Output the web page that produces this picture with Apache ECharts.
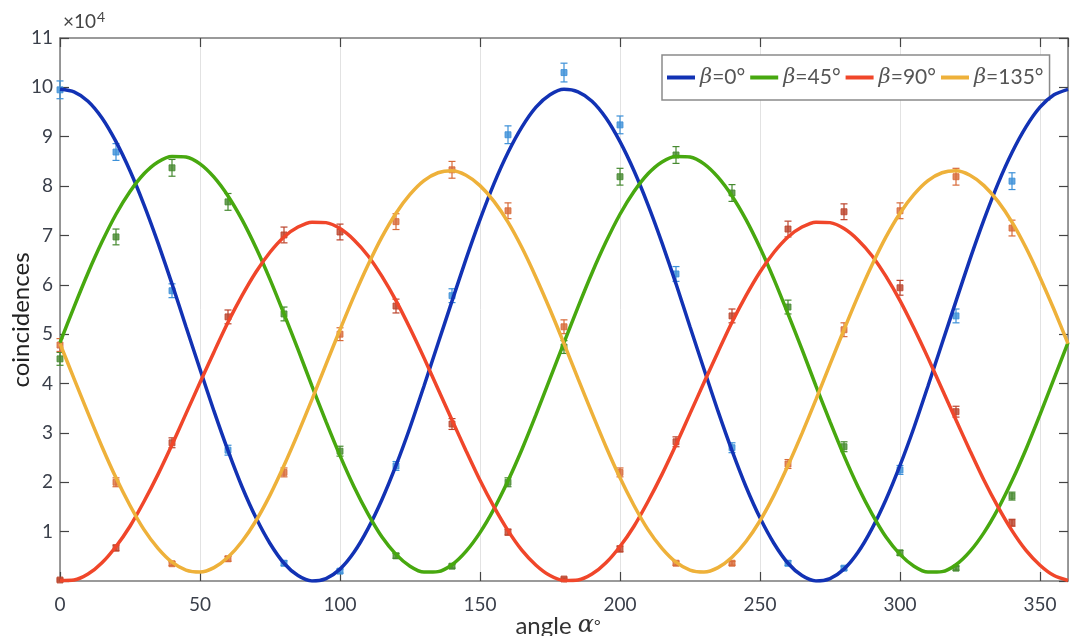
<!DOCTYPE html>
<html><head><meta charset="utf-8">
<script src="https://cdn.jsdelivr.net/npm/echarts@6/dist/echarts.min.js"></script>
<style>html,body{margin:0;padding:0;background:#fff}#c{width:1078px;height:636px}</style>
</head><body><div id="c"></div>
<script>
// Fitted curves, read every 5 degrees from 0 to 360 (values in units of 10^4)
const curveAngles = [0,5,10,15,20,25,30,35,40,45,50,55,60,65,70,75,80,85,90,95,100,105,110,115,120,125,130,135,140,145,150,155,160,165,170,175,180,185,190,195,200,205,210,215,220,225,230,235,240,245,250,255,260,265,270,275,280,285,290,295,300,305,310,315,320,325,330,335,340,345,350,355,360];
const fitBeta0 = [9.96,9.91,9.72,9.38,8.90,8.31,7.62,6.85,6.02,5.15,4.29,3.44,2.64,1.91,1.28,0.76,0.36,0.11,0.00,0.05,0.24,0.58,1.06,1.65,2.34,3.11,3.95,4.81,5.67,6.52,7.32,8.05,8.68,9.20,9.60,9.85,
                  9.96,9.91,9.72,9.38,8.90,8.31,7.62,6.85,6.02,5.15,4.29,3.44,2.64,1.91,1.28,0.76,0.36,0.11,0.00,0.05,0.24,0.58,1.06,1.65,2.34,3.11,3.95,4.81,5.67,6.52,7.32,8.05,8.68,9.20,9.60,9.85,9.96];
const fitBeta45 = [4.83,5.55,6.24,6.87,7.43,7.89,8.25,8.49,8.60,8.59,8.45,8.18,7.80,7.32,6.75,6.11,5.41,4.69,3.95,3.23,2.54,1.91,1.36,0.89,0.54,0.30,0.18,0.19,0.33,0.60,0.98,1.46,2.03,2.67,3.37,4.10,
                   4.83,5.55,6.24,6.87,7.43,7.89,8.25,8.49,8.60,8.59,8.45,8.18,7.80,7.32,6.75,6.11,5.41,4.69,3.95,3.23,2.54,1.91,1.36,0.89,0.54,0.30,0.18,0.19,0.33,0.60,0.98,1.46,2.03,2.67,3.37,4.10,4.83];
const fitBeta90 = [0.01,0.02,0.14,0.37,0.70,1.11,1.61,2.16,2.76,3.39,4.02,4.64,5.24,5.78,6.26,6.66,6.97,7.17,7.27,7.26,7.14,6.91,6.59,6.17,5.68,5.12,4.52,3.89,3.26,2.64,2.04,1.50,1.02,0.62,0.32,0.11,
                   0.01,0.02,0.14,0.37,0.70,1.11,1.61,2.16,2.76,3.39,4.02,4.64,5.24,5.78,6.26,6.66,6.97,7.17,7.27,7.26,7.14,6.91,6.59,6.17,5.68,5.12,4.52,3.89,3.26,2.64,2.04,1.50,1.02,0.62,0.32,0.11,0.01];
const fitBeta135 = [4.81,4.10,3.40,2.72,2.09,1.53,1.04,0.66,0.38,0.22,0.18,0.27,0.48,0.80,1.22,1.74,2.34,2.99,3.68,4.39,5.09,5.77,6.40,6.97,7.45,7.83,8.11,8.27,8.31,8.22,8.01,7.69,7.27,6.75,6.15,5.50,
                    4.81,4.10,3.40,2.72,2.09,1.53,1.04,0.66,0.38,0.22,0.18,0.27,0.48,0.80,1.22,1.74,2.34,2.99,3.68,4.39,5.09,5.77,6.40,6.97,7.45,7.83,8.11,8.27,8.31,8.22,8.01,7.69,7.27,6.75,6.15,5.50,4.81];

// Measured points every 20 degrees, with error bars
const dataAngles = [0,20,40,60,80,100,120,140,160,180,200,220,240,260,280,300,320,340];
const ptsBeta0   = [9.95,8.69,5.88,2.65,0.36,0.20,2.33,5.78,9.04,10.30,9.24,6.22,2.70,0.36,0.26,2.25,5.37,8.10];
const errBeta0   = [0.18,0.17,0.14,0.10,0.05,0.04,0.09,0.14,0.18,0.19,0.18,0.15,0.10,0.05,0.04,0.09,0.14,0.17];
const ptsBeta45  = [4.50,6.97,8.37,7.68,5.41,2.63,0.51,0.30,2.00,4.74,8.19,8.63,7.86,5.55,2.72,0.57,0.26,1.72];
const errBeta45  = [0.13,0.16,0.17,0.17,0.14,0.10,0.05,0.04,0.09,0.13,0.17,0.17,0.17,0.14,0.10,0.05,0.04,0.08];
const ptsBeta90  = [0.02,0.67,2.80,5.35,7.01,7.07,5.57,3.18,0.99,0.04,0.65,2.82,5.37,7.13,7.48,5.94,3.43,1.18];
const errBeta90  = [0.02,0.06,0.10,0.14,0.16,0.16,0.14,0.11,0.06,0.02,0.06,0.10,0.14,0.16,0.16,0.15,0.11,0.07];
const ptsBeta135 = [4.78,2.00,0.35,0.45,2.20,5.00,7.28,8.33,7.50,5.15,2.20,0.36,0.36,2.37,5.09,7.50,8.19,7.15];
const errBeta135 = [0.13,0.09,0.04,0.05,0.09,0.13,0.16,0.17,0.16,0.14,0.09,0.04,0.04,0.09,0.14,0.16,0.17,0.16];

const seriesNames = ['β=0°','β=45°','β=90°','β=135°'];
const lineColors = ['#1232b4','#47a80f','#f0462a','#eeb13a'];
const pointColors = ['#3c90d8','#468a30','#bb442c','#d86a38'];
const fits = [fitBeta0, fitBeta45, fitBeta90, fitBeta135];
const pts = [ptsBeta0, ptsBeta45, ptsBeta90, ptsBeta135];
const errs = [errBeta0, errBeta45, errBeta90, errBeta135];
const xTicks = [0,50,100,150,200,250,300,350];

const chart = echarts.init(document.getElementById('c'), null, {renderer:'canvas'});
const FONT = 'Lato';
const axisGray = '#7a7a7a';

function renderErr(params, api){
  const x = api.value(0), y = api.value(1), e = api.value(2);
  const p = api.coord([x, y]);
  const t = api.coord([x, y + e]);
  const b = api.coord([x, y - e]);
  const c = api.visual('color');
  const ls = {stroke: c, lineWidth: 1.2};
  return {type:'group', children:[
    {type:'line', shape:{x1:p[0], y1:t[1], x2:p[0], y2:b[1]}, style:ls},
    {type:'line', shape:{x1:p[0]-3.5, y1:t[1], x2:p[0]+3.5, y2:t[1]}, style:ls},
    {type:'line', shape:{x1:p[0]-3.5, y1:b[1], x2:p[0]+3.5, y2:b[1]}, style:ls},
    {type:'rect', shape:{x:p[0]-3, y:p[1]-3, width:6, height:6}, style:{fill:c, opacity:0.8, stroke:c, lineWidth:1}}
  ]};
}

const series = [];
for (let i = 0; i < 4; i++) {
  series.push({
    type:'custom', name:'pts'+i, renderItem: renderErr, z: 3,
    itemStyle:{color: pointColors[i]},
    data: dataAngles.map((a, k) => [a, pts[i][k], errs[i][k]]),
    encode:{x:0, y:1}, clip:false, silent:true
  });
}
for (let i = 0; i < 4; i++) {
  series.push({
    type:'line', name: seriesNames[i], smooth: 0.25, symbol:'none', z: 4,
    lineStyle:{color: lineColors[i], width: 3.5},
    itemStyle:{color: lineColors[i]},
    data: curveAngles.map((a, k) => [a, fits[i][k]]),
    clip: true, silent:true
  });
}

const option = {
  animation:false,
  backgroundColor:'#fff',
  grid:{left:60, right:10, top:38, bottom:55, containLabel:false},
  xAxis:[{
    type:'value', min:0, max:360, interval:50,
    axisLine:{show:true, onZero:false, lineStyle:{color:axisGray, width:1.5}},
    axisTick:{show:true, inside:true, length:9, lineStyle:{color:'#444', width:1.2}},
    axisLabel:{color:'#3a3f4a', fontSize:19, fontFamily:FONT, margin:14, showMaxLabel:false,
      formatter: v => xTicks.indexOf(v) >= 0 ? String(v) : ''},
    splitLine:{show:true, lineStyle:{color:'#e2e2e2', width:1}}
  },{
    type:'value', min:0, max:360, interval:50, position:'top',
    axisLine:{show:true, onZero:false, lineStyle:{color:axisGray, width:1.5}},
    axisTick:{show:true, inside:true, length:9, lineStyle:{color:'#444', width:1.2}},
    axisLabel:{show:false}, splitLine:{show:false}
  }],
  yAxis:[{
    type:'value', min:0, max:11, interval:1,
    axisLine:{show:true, onZero:false, lineStyle:{color:axisGray, width:1.5}},
    axisTick:{show:true, inside:true, length:9, lineStyle:{color:'#444', width:1.2}},
    axisLabel:{color:'#3a3f4a', fontSize:19, fontFamily:FONT, margin:7,
      formatter: v => v === 0 ? '' : String(v)},
    splitLine:{show:false}
  },{
    type:'value', min:0, max:11, interval:1, position:'right',
    axisLine:{show:true, onZero:false, lineStyle:{color:axisGray, width:1.5}},
    axisTick:{show:true, inside:true, length:9, lineStyle:{color:'#444', width:1.2}},
    axisLabel:{show:false}, splitLine:{show:false}
  }],
  legend:{
    data: seriesNames, left:662, top:55, orient:'horizontal',
    icon:'rect', itemWidth:28, itemHeight:4, itemGap:5,
    backgroundColor:'#fff', borderColor:'#8a8a8a', borderWidth:1.5, borderRadius:0,
    padding:[12,6,12,5],
    formatter: name => '{i|β}{n|' + name.slice(1) + '}',
    textStyle:{fontSize:21, color:'#555', fontFamily:FONT,
      rich:{i:{fontStyle:'italic', fontSize:21, color:'#555', fontFamily:'DejaVu Serif'}, n:{fontSize:21, color:'#555', fontFamily:FONT}}}
  },
  graphic:[
    {type:'text', left:63, top:10, style:{
      text:'{a|×10}{s|4}', rich:{a:{fontSize:19, fill:'#444', fontFamily:FONT}, s:{fontSize:14, fill:'#444', fontFamily:FONT, verticalAlign:'top', padding:[0,0,9,1]}}}},
    {type:'text', x:21, y:320, rotation:Math.PI/2, style:{
      text:'coincidences', fontSize:24, fill:'#222', fontFamily:FONT, align:'center', verticalAlign:'middle'}},
    {type:'text', x:558, y:626, style:{
      text:'{a|angle }{b|α}{c|°}', align:'center', verticalAlign:'middle',
      rich:{a:{fontSize:24, fill:'#333', fontFamily:FONT}, b:{fontSize:24, fill:'#333', fontStyle:'italic', fontFamily:'DejaVu Serif'}, c:{fontSize:16, fill:'#333', fontFamily:FONT}}}}
  ],
  series: series
};
chart.setOption(option);
</script></body></html>
